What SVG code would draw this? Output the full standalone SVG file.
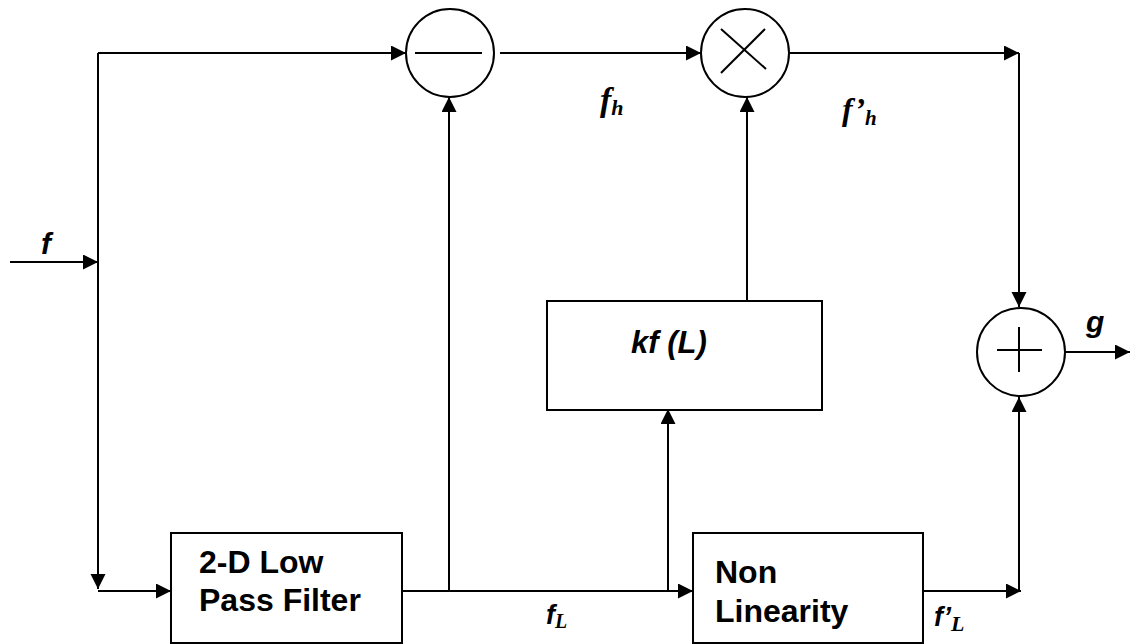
<svg xmlns="http://www.w3.org/2000/svg" width="1130" height="644" viewBox="0 0 1130 644">
  <defs>
    <marker id="arrow" markerUnits="userSpaceOnUse" markerWidth="16" markerHeight="16" refX="15" refY="7.5" orient="auto">
      <path d="M0,0 L15,7.5 L0,15 z" fill="#000"/>
    </marker>
    <style>
      .wire { fill: none; stroke: #000; stroke-width: 2; marker-end: url(#arrow); }
      .box { fill: #fff; stroke: #000; stroke-width: 2; }
      .op { fill: #fff; stroke: #000; stroke-width: 2; }
      .sym { stroke: #000; stroke-width: 2; }
      .blk { font-family: "Liberation Sans", Arial, sans-serif; font-weight: bold; font-size: 32px; fill: #000; }
      .sans-it { font-family: "Liberation Sans", Arial, sans-serif; font-weight: bold; font-style: italic; fill: #000; }
      .serif-it { font-family: "Liberation Serif", "Times New Roman", serif; font-weight: bold; font-style: italic; fill: #000; }
      .serif-sub { font-family: "Liberation Serif", "Times New Roman", serif; font-style: italic; fill: #000; }
    </style>
  </defs>
  <rect width="1130" height="644" fill="#fff"/>

  <!-- signal paths -->
  <g id="connectors">
    <path class="wire" d="M10,262 H98"/>
    <path class="wire" d="M98,53 V589"/>
    <path class="wire" d="M98,53 H406"/>
    <path class="wire" d="M98,591 H171"/>
    <path class="wire" d="M500,53 H701"/>
    <path class="wire" d="M790,53 H1019"/>
    <path class="wire" d="M1019,53 V307"/>
    <path class="wire" d="M1066,352 H1130"/>
    <path class="wire" d="M402,591 H693"/>
    <path class="wire" d="M449,591 V97"/>
    <path class="wire" d="M668,591 V409"/>
    <path class="wire" d="M747,300 V97"/>
    <path class="wire" d="M923,591 H1021"/>
    <path class="wire" d="M1019,591 V397"/>
  </g>

  <!-- subtractor -->
  <g id="subtract">
    <circle class="op" cx="450" cy="53" r="44"/>
    <line class="sym" x1="415" y1="53" x2="482" y2="53"/>
  </g>

  <!-- multiplier -->
  <g id="multiply">
    <circle class="op" cx="745" cy="53" r="44"/>
    <line class="sym" x1="721" y1="29" x2="766" y2="69"/>
    <line class="sym" x1="721" y1="73" x2="765" y2="29"/>
  </g>

  <!-- adder -->
  <g id="add">
    <circle class="op" cx="1021" cy="352" r="44"/>
    <line class="sym" x1="997" y1="350" x2="1042" y2="350"/>
    <line class="sym" x1="1019" y1="327" x2="1019" y2="372"/>
  </g>

  <!-- low pass filter block -->
  <g id="lpf">
    <rect class="box" x="171" y="533" width="231" height="110"/>
    <text class="blk" x="199" y="573">2-D Low</text>
    <text class="blk" x="199" y="611">Pass Filter</text>
  </g>

  <!-- nonlinearity block -->
  <g id="nonlinearity">
    <rect class="box" x="693" y="533" width="230" height="110"/>
    <text class="blk" x="715" y="583">Non</text>
    <text class="blk" x="715" y="622">Linearity</text>
  </g>

  <!-- gain block -->
  <g id="gain">
    <rect class="box" x="547" y="301" width="275" height="109"/>
    <text class="sans-it" x="631" y="353" font-size="31">kf (L)</text>
  </g>

  <!-- signal labels -->
  <g id="labels">
    <text class="sans-it" x="41" y="254" font-size="30">f</text>
    <text class="sans-it" x="1086" y="332" font-size="30">g</text>
    <text class="serif-it" x="600" y="111" font-size="34">f<tspan font-size="22" dy="4">h</tspan></text>
    <text class="serif-it" x="842" y="120" font-size="32">f’<tspan font-size="21" dy="5">h</tspan></text>
    <text class="sans-it" x="546" y="624" font-size="27">f<tspan class="serif-sub" font-size="20" dy="4">L</tspan></text>
    <text class="sans-it" x="934" y="626" font-size="27">f’<tspan class="serif-sub" font-size="22" dy="5">L</tspan></text>
  </g>
</svg>
